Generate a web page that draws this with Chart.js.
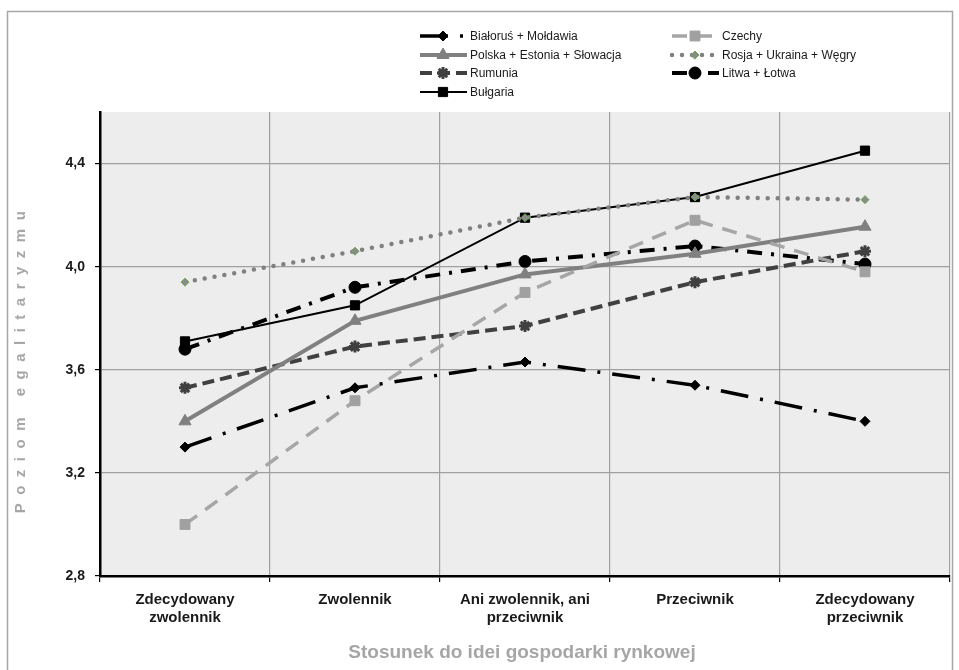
<!DOCTYPE html>
<html>
<head>
<meta charset="utf-8">
<script src="https://cdn.jsdelivr.net/npm/chart.js@4/dist/chart.umd.min.js"></script>
<style>
  html, body { margin: 0; padding: 0; background: #fff; }
  #box { width: 959px; height: 670px; }
</style>
</head>
<body>
<div id="box"><canvas id="egalChart"></canvas></div>
<script>
// Kategorie (oś X)
const categories = [
  ['Zdecydowany', 'zwolennik'],
  'Zwolennik',
  ['Ani zwolennik, ani', 'przeciwnik'],
  'Przeciwnik',
  ['Zdecydowany', 'przeciwnik']
];

// Wartości serii
const bialorusMoldawia = [3.30, 3.53, 3.63, 3.54, 3.40];
const czechy = [3.00, 3.48, 3.90, 4.18, 3.98];
const polskaEstoniaSlowacja = [3.40, 3.79, 3.97, 4.05, 4.155];
const rosjaUkrainaWegry = [3.94, 4.06, 4.19, 4.27, 4.26];
const rumunia = [3.53, 3.69, 3.77, 3.94, 4.06];
const litwaLotwa = [3.68, 3.92, 4.02, 4.08, 4.01];
const bulgaria = [3.71, 3.85, 4.19, 4.27, 4.45];

// Podziałka osi Y
const yTicks = [2.8, 3.2, 3.6, 4.0, 4.4];

const yTitle = 'Poziom egalitaryzmu';
const xTitle = 'Stosunek do idei gospodarki rynkowej';

const ctx = document.getElementById('egalChart').getContext('2d');

// miejsce w legendzie: [kolumna, wiersz]
const legendSlots = {
  'Białoruś + Mołdawia': [0, 0],
  'Polska + Estonia + Słowacja': [0, 1],
  'Rumunia': [0, 2],
  'Bułgaria': [0, 3],
  'Czechy': [1, 0],
  'Rosja + Ukraina + Węgry': [1, 1],
  'Litwa + Łotwa': [1, 2]
};

const decor = {
  id: 'decor',
  beforeDraw(chart) {
    const c = chart.ctx, a = chart.chartArea;
    c.save();
    c.fillStyle = '#ecedec';
    c.fillRect(a.left, a.top, a.right - a.left, a.bottom - a.top);
    c.strokeStyle = '#a6a6a6';
    c.lineWidth = 1.5;
    c.strokeRect(7.5, 11.5, 945, 720);
    c.restore();
  },
  afterDraw(chart) {
    const c = chart.ctx;
    c.save();
    // tytuł osi Y
    c.fillStyle = '#a6a6a6';
    c.font = 'bold 15px "Liberation Sans", Arial, sans-serif';
    c.textAlign = 'center';
    c.textBaseline = 'middle';
    c.translate(21, 362);
    c.rotate(-Math.PI / 2);
    if ('letterSpacing' in c) c.letterSpacing = '8.5px';
    c.fillText(yTitle, 4, 0);
    c.restore();

    c.save();
    c.fillStyle = '#a6a6a6';
    c.font = 'bold 19px "Liberation Sans", Arial, sans-serif';
    c.textAlign = 'center';
    c.textBaseline = 'middle';
    c.fillText(xTitle, 522, 653);
    c.restore();

    // legenda
    chart.data.datasets.forEach(ds => {
      const slot = legendSlots[ds.label];
      const x0 = slot[0] ? 672 : 420;
      const y = [36, 55, 73, 92][slot[1]];
      c.save();
      c.strokeStyle = ds.borderColor;
      c.lineWidth = ds.borderWidth;
      c.lineCap = ds.borderCapStyle || 'butt';
      c.setLineDash(ds.borderDash || []);
      c.beginPath();
      c.moveTo(x0, y);
      c.lineTo(x0 + 47, y);
      c.stroke();
      c.setLineDash([]);
      c.fillStyle = ds.pointBackgroundColor;
      c.strokeStyle = ds.pointBorderColor;
      c.lineWidth = ds.pointBorderWidth;
      if (Chart.helpers && Chart.helpers.drawPoint) {
        Chart.helpers.drawPoint(c, {
          pointStyle: ds.pointStyle, rotation: 0,
          radius: ds.pointRadius, borderWidth: ds.pointBorderWidth
        }, x0 + 23, y);
      }
      c.fillStyle = '#1a1a1a';
      c.font = '12px "Liberation Sans", Arial, sans-serif';
      c.textBaseline = 'middle';
      c.fillText(ds.label, x0 + 50, y + 1);
      c.restore();
    });
  }
};

function series(label, data, color, width, dash, style, radius, fill, bw, edge) {
  return {
    label: label,
    data: data,
    borderColor: color,
    borderWidth: width,
    borderDash: dash,
    borderCapStyle: 'butt',
    pointStyle: style,
    pointRadius: radius,
    pointHoverRadius: radius,
    pointBackgroundColor: fill,
    pointBorderColor: edge || fill,
    pointBorderWidth: bw,
    tension: 0,
    fill: false
  };
}

const rosja = series('Rosja + Ukraina + Węgry', rosjaUkrainaWegry, '#808080', 4.5, [0, 10], 'rectRot', 4, '#8a8a8a', 1, '#6aa84f');
rosja.borderCapStyle = 'round';

const data = {
  labels: categories,
  datasets: [
    series('Białoruś + Mołdawia', bialorusMoldawia, '#000000', 3.5, [28, 12, 3, 12], 'rectRot', 5, '#000000', 1),
    series('Czechy', czechy, '#a6a6a6', 3.5, [15, 10], 'rect', 7, '#a0a0a0', 1),
    series('Polska + Estonia + Słowacja', polskaEstoniaSlowacja, '#808080', 4, [], 'triangle', 7, '#808080', 1),
    rosja,
    series('Rumunia', rumunia, '#404040', 4, [12, 6], 'star', 6, '#404040', 3),
    series('Litwa + Łotwa', litwaLotwa, '#000000', 4, [15, 9, 3, 9], 'circle', 6, '#000000', 1),
    series('Bułgaria', bulgaria, '#000000', 2, [], 'rect', 6.5, '#000000', 1)
  ]
};

const config = {
  type: 'line',
  data: data,
  options: {
    responsive: true,
    maintainAspectRatio: false,
    animation: false,
    layout: { padding: { top: 112, right: 7, left: 0, bottom: 0 } },
    plugins: {
      legend: { display: false },
      tooltip: { enabled: false }
    },
    scales: {
      x: {
        offset: true,
        grid: { offset: true, color: '#a0a0a0', lineWidth: 1.2, tickColor: '#000', tickLength: 6 },
        border: { color: '#000', width: 2.5 },
        ticks: {
          color: '#1a1a1a',
          padding: 8,
          maxRotation: 0,
          font: { family: '"Liberation Sans", Arial, sans-serif', size: 15, weight: 'bold', lineHeight: 1.25 }
        },
        afterFit(scale) { scale.height = 94; }
      },
      y: {
        min: 2.8,
        max: 4.6,
        afterBuildTicks(scale) { scale.ticks = yTicks.map(v => ({ value: v })); },
        grid: { color: '#a0a0a0', lineWidth: 1.2, tickColor: '#000', tickLength: 5 },
        border: { color: '#000', width: 2.5 },
        ticks: {
          color: '#1a1a1a',
          padding: 10,
          font: { family: '"Liberation Sans", Arial, sans-serif', size: 14, weight: 'bold' },
          callback: v => v.toFixed(1).replace('.', ',')
        },
        afterFit(scale) { scale.width = 100; }
      }
    }
  },
  plugins: [decor]
};

const egalChart = new Chart(ctx, config);
</script>
</body>
</html>
